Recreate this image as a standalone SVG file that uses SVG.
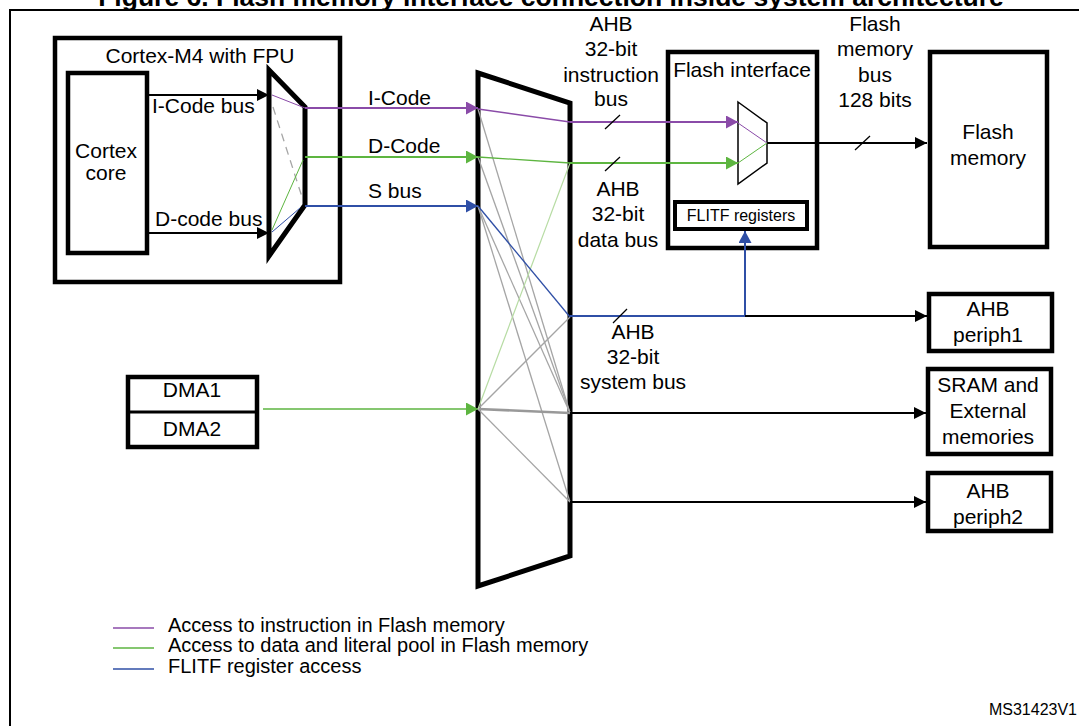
<svg xmlns="http://www.w3.org/2000/svg" width="1079" height="726" viewBox="0 0 1079 726">
<style>
text{font-family:"Liberation Sans",Arial,sans-serif;font-size:21px;fill:#000}
.c{text-anchor:middle}
.box{fill:#fff;stroke:#000;stroke-width:4.5}
.thin{fill:#fff;stroke:#000;stroke-width:1.5}
.pu{stroke:#8A4BA8;fill:none}
.gr{stroke:#5DB540;fill:none}
.bl{stroke:#2F4FA6;fill:none}
.gy{stroke:#A5A5A5;fill:none;stroke-width:1.3}
.bk{stroke:#000;fill:none;stroke-width:2}
.sl{stroke:#000;stroke-width:1.3}
</style>
<defs>
<marker id="ak" markerUnits="userSpaceOnUse" markerWidth="12" markerHeight="12" refX="12" refY="6" orient="auto"><path d="M0,0L12,6L0,12z" fill="#000"/></marker>
<marker id="ap" markerUnits="userSpaceOnUse" markerWidth="12" markerHeight="13" refX="12" refY="6.5" orient="auto"><path d="M0,0L12,6.5L0,13z" fill="#8A4BA8"/></marker>
<marker id="ag" markerUnits="userSpaceOnUse" markerWidth="12" markerHeight="13" refX="12" refY="6.5" orient="auto"><path d="M0,0L12,6.5L0,13z" fill="#5DB540"/></marker>
<marker id="ab" markerUnits="userSpaceOnUse" markerWidth="12" markerHeight="13" refX="12" refY="6.5" orient="auto"><path d="M0,0L12,6.5L0,13z" fill="#2F4FA6"/></marker>
</defs>
<rect width="1079" height="726" fill="#fff"/>
<text x="551" y="6" class="c" style="font-size:26.5px;font-weight:bold">Figure 6. Flash memory interface connection inside system architecture</text>
<rect x="10" y="10" width="1100" height="800" fill="none" stroke="#000" stroke-width="2"/>

<g id="cortex">
<rect class="box" x="55" y="38" width="285" height="244"/>
<text x="200" y="63" class="c">Cortex-M4 with FPU</text>
<rect class="box" x="68" y="73" width="79" height="180"/>
<text x="106" y="158" class="c">Cortex</text>
<text x="106" y="180" class="c">core</text>
<text x="152" y="113">I-Code bus</text>
<text x="155" y="226">D-code bus</text>
</g>
<g id="cortex-mux">
<polygon class="box" points="269,70 305,107 305,205 269,256" style="stroke-width:5"/>
<line x1="272" y1="95" x2="305" y2="108" class="pu" stroke-width="1"/>
<line x1="273" y1="107" x2="302" y2="197" stroke="#A5A5A5" stroke-width="1.3" stroke-dasharray="8,6"/>
<line x1="272" y1="230" x2="303" y2="160" class="gr" stroke-width="1"/>
<line x1="272" y1="232" x2="300" y2="208" class="bl" stroke-width="1"/>
</g>

<g id="bus-matrix">
<polygon class="box" points="478,73 570,103 570,556 478,586" style="stroke-width:5"/>
</g>

<g id="flash-interface">
<rect class="box" x="668" y="52" width="149" height="196"/>
<text x="742" y="77" class="c">Flash interface</text>
<polygon class="thin" points="738,102 767,123 767,163 738,184"/>
<line x1="738" y1="123" x2="767" y2="143" class="pu" stroke-width="1"/>
<line x1="738" y1="163" x2="767" y2="143" class="gr" stroke-width="1"/>
</g>
<g id="flitf">
<rect class="box" x="675" y="202" width="132" height="27" style="stroke-width:4"/>
<text x="741" y="221" class="c" style="font-size:16px">FLITF registers</text>
</g>

<g id="flash-memory">
<rect class="box" x="930" y="52" width="117" height="195"/>
<text x="988" y="139" class="c">Flash</text>
<text x="988" y="165" class="c">memory</text>
</g>

<g id="ahb-periph1">
<rect class="box" x="929" y="294" width="123" height="57"/>
<text x="988" y="316" class="c">AHB</text>
<text x="988" y="342" class="c">periph1</text>
</g>
<g id="sram">
<rect class="box" x="928" y="369" width="123" height="85"/>
<text x="988" y="392" class="c">SRAM and</text>
<text x="988" y="418" class="c">External</text>
<text x="988" y="444" class="c">memories</text>
</g>
<g id="ahb-periph2">
<rect class="box" x="928" y="473" width="123" height="58"/>
<text x="988" y="498" class="c">AHB</text>
<text x="988" y="524" class="c">periph2</text>
</g>

<g id="dma">
<rect class="box" x="128" y="377" width="129" height="70"/>
<line x1="128" y1="412" x2="257" y2="412" stroke="#000" stroke-width="3"/>
<text x="192" y="397" class="c">DMA1</text>
<text x="192" y="436" class="c">DMA2</text>
</g>

<g id="connectors">
<line x1="147" y1="95" x2="269" y2="95" class="bk" marker-end="url(#ak)"/>
<line x1="147" y1="233" x2="269" y2="233" class="bk" marker-end="url(#ak)"/>
<line x1="305" y1="108" x2="478" y2="108" class="pu" stroke-width="2" marker-end="url(#ap)"/>
<line x1="305" y1="157" x2="478" y2="157" class="gr" stroke-width="2" marker-end="url(#ag)"/>
<line x1="305" y1="206" x2="478" y2="206" class="bl" stroke-width="2" marker-end="url(#ab)"/>
<line x1="263" y1="409" x2="478" y2="409" class="gr" stroke-width="1.3" marker-end="url(#ag)"/>

<line x1="478" y1="109" x2="570" y2="413" class="gy"/>
<line x1="478" y1="157" x2="570" y2="413" class="gy"/>
<line x1="478" y1="206" x2="570" y2="413" class="gy"/>
<line x1="478" y1="206" x2="570" y2="502" class="gy"/>
<line x1="478" y1="409" x2="570" y2="317" class="gy"/>
<line x1="478" y1="409" x2="570" y2="413" stroke="#999" stroke-width="2.6"/>
<line x1="478" y1="409" x2="570" y2="502" class="gy"/>
<line x1="478" y1="409" x2="570" y2="163" stroke="#B7DCA4" stroke-width="1.2"/>
<line x1="478" y1="109" x2="570" y2="122" class="pu" stroke-width="1.3"/>
<line x1="478" y1="157" x2="570" y2="163" class="gr" stroke-width="1.3"/>
<line x1="478" y1="206" x2="570" y2="317" class="bl" stroke-width="1.3"/>

<line x1="570" y1="122" x2="738" y2="122" class="pu" stroke-width="2" marker-end="url(#ap)"/>
<line x1="570" y1="163" x2="738" y2="163" class="gr" stroke-width="2" marker-end="url(#ag)"/>
<line x1="767" y1="143" x2="927" y2="143" class="bk" marker-end="url(#ak)"/>
<line x1="570" y1="316" x2="745" y2="316" class="bl" stroke-width="2"/>
<line x1="745" y1="316" x2="745" y2="231" class="bl" stroke-width="2" marker-end="url(#ab)"/>
<line x1="745" y1="316" x2="927" y2="316" class="bk" marker-end="url(#ak)"/>
<line x1="570" y1="413" x2="926" y2="413" class="bk" marker-end="url(#ak)"/>
<line x1="570" y1="502" x2="926" y2="502" class="bk" marker-end="url(#ak)"/>

<line x1="605" y1="129" x2="620" y2="115" class="sl"/>
<line x1="605" y1="171" x2="620" y2="157" class="sl"/>
<line x1="855" y1="150" x2="870" y2="136" class="sl"/>
<line x1="613" y1="323" x2="627" y2="309" class="sl"/>
</g>

<g id="labels">
<text x="368" y="105">I-Code</text>
<text x="368" y="153">D-Code</text>
<text x="368" y="198">S bus</text>
<text x="611" y="31" class="c">AHB</text>
<text x="611" y="56" class="c">32-bit</text>
<text x="611" y="82" class="c">instruction</text>
<text x="611" y="106" class="c">bus</text>
<text x="875" y="31" class="c">Flash</text>
<text x="875" y="56" class="c">memory</text>
<text x="875" y="82" class="c">bus</text>
<text x="875" y="107" class="c">128 bits</text>
<text x="618" y="196" class="c">AHB</text>
<text x="618" y="221" class="c">32-bit</text>
<text x="618" y="247" class="c">data bus</text>
<text x="633" y="339" class="c">AHB</text>
<text x="633" y="364" class="c">32-bit</text>
<text x="633" y="389" class="c">system bus</text>
</g>

<g id="legend">
<line x1="113" y1="628" x2="154" y2="628" class="pu" stroke-width="1.6"/>
<line x1="113" y1="648" x2="154" y2="648" class="gr" stroke-width="1.6"/>
<line x1="113" y1="669" x2="154" y2="669" class="bl" stroke-width="1.6"/>
<text x="168" y="632" style="font-size:20px">Access to instruction in Flash memory</text>
<text x="168" y="652" style="font-size:20px">Access to data and literal pool in Flash memory</text>
<text x="168" y="673" style="font-size:20px">FLITF register access</text>
</g>
<text x="1077" y="715" style="font-size:16px;text-anchor:end">MS31423V1</text>
</svg>
